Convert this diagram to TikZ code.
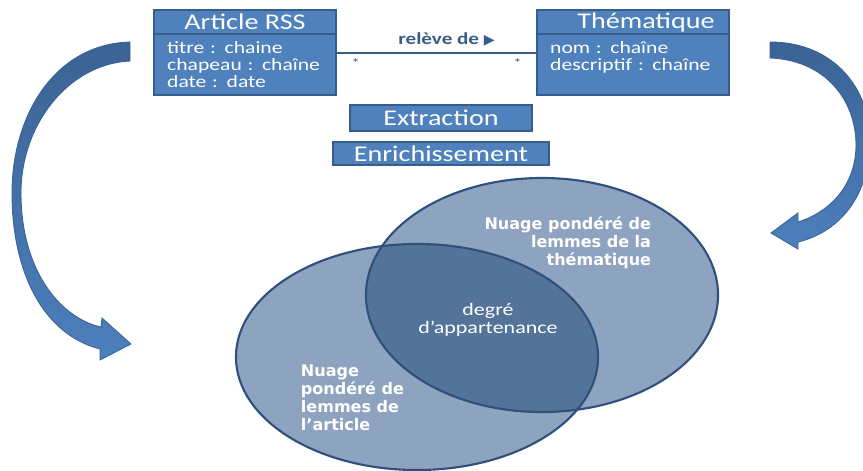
\documentclass[tikz,border=0pt]{standalone}
\usepackage{fontspec}
\setmainfont{Carlito}[FakeStretch=1.25]
\newfontfamily\cloudfont{DejaVu Sans}
\newfontfamily\symfont{DejaVu Sans}
\usetikzlibrary{positioning}
\definecolor{BoxBlue}{RGB}{79,129,189}
\definecolor{BoxEdge}{RGB}{56,93,138}
\definecolor{CloudFill}{RGB}{141,163,192}
\definecolor{LensFill}{RGB}{84,115,153}
\definecolor{CloudEdge}{RGB}{46,80,124}
\definecolor{ArrowDark}{RGB}{59,99,148}
\definecolor{ArrowLight}{RGB}{77,127,189}
\definecolor{ArrowEdge}{RGB}{58,98,150}
\tikzset{
  classhead/.style={draw=BoxEdge,fill=BoxBlue,line width=1.2pt,text=white,
    minimum height=0.6cm,inner sep=0pt,outer sep=0pt,font=\fontsize{16}{18}\selectfont},
  classbody/.style={draw=BoxEdge,fill=BoxBlue,line width=1.2pt,text=white,
    minimum height=1.525cm,inner xsep=0.33cm,inner ysep=0pt,outer sep=0pt,
    align=left,font=\fontsize{12.3}{12.4}\selectfont},
  stepbox/.style={draw=BoxEdge,fill=BoxBlue,line width=1.2pt,text=white,
    inner sep=0pt,outer sep=0pt,font=\fontsize{16}{18}\selectfont},
  cloudlabel/.style={text=white,font=\cloudfont\bfseries\fontsize{11.4}{12.8}\selectfont},
  multiplicity/.style={text=BoxEdge,font=\fontsize{9}{10}\selectfont},
  relation/.style={draw=BoxEdge,line width=1.4pt},
  bigarrow/.style={top color=ArrowDark,bottom color=ArrowLight,draw=ArrowEdge,line width=0.6pt}
}

\begin{document}
\begin{tikzpicture}[x=0.025cm,y=-0.025cm]
  \clip (0,0) rectangle (863,470);
  % classes
  \node[classhead,minimum width=4.55cm] (artHead) at (245,22) {Article RSS};
  \node[classbody,below=0pt of artHead,text width=3.89cm] (artBody)
    {titre : chaine\\chapeau : chaîne\\date : date};
  \node[classhead,minimum width=4.8cm] (thmHead) at (633,22) {\hskip0.65cm Thématique};
  \node[classbody,below=0pt of thmHead,text width=4.14cm] (thmBody)
    {nom : chaîne\\descriptif : chaîne\\\mbox{}};
  \draw[relation] ([yshift=0.29cm]artBody.east) --
    node[pos=0.55,above=1pt,text=BoxEdge,font=\bfseries\fontsize{12}{14}\selectfont]
      {relève de {\symfont\fontsize{10}{12}\selectfont ▶}}
    node[multiplicity,pos=0,below right=0pt and 7pt] {*}
    node[multiplicity,pos=1,below left=0pt and 7pt] {*}
    ([yshift=0.29cm]thmBody.west);
  % processing steps
  \node[stepbox,minimum width=4.55cm,minimum height=0.65cm] (extract) at (441,118) {Extraction};
  \node[stepbox,minimum width=5.4cm,minimum height=0.575cm,below=0.275cm of extract] (enrich) {Enrichissement};
  % clouds
  \fill[CloudFill] (542,295) ellipse [x radius=4.4cm,y radius=2.925cm];
  \fill[CloudFill] (417,357) ellipse [x radius=4.525cm,y radius=2.825cm];
  \begin{scope}
    \clip (542,295) ellipse [x radius=4.4cm,y radius=2.925cm];
    \fill[LensFill] (417,357) ellipse [x radius=4.525cm,y radius=2.825cm];
  \end{scope}
  \draw[CloudEdge,line width=1.5pt] (542,295) ellipse [x radius=4.4cm,y radius=2.925cm];
  \draw[CloudEdge,line width=1.5pt] (417,357) ellipse [x radius=4.525cm,y radius=2.825cm];
  \node[cloudlabel,anchor=east,align=right] (thmCloud) at (656,243)
    {Nuage pondéré de\\lemmes de la\\thématique};
  \node[cloudlabel,anchor=west,align=left] (artCloud) at (296,398)
    {Nuage\\pondéré de\\lemmes de\\l’article};
  \node[text=white,align=center,font=\fontsize{12.5}{13}\selectfont] (degree) at (488,320)
    {degré\\d’appartenance};
  % curved arrows
  \shadedraw[bigarrow] (130,42) .. controls (55,44) and (12,115) .. (12,193)
    .. controls (12,275) and (45,335) .. (100,349) -- (100,360) -- (131,344) -- (102,318) -- (101,327)
    .. controls (60,318) and (21,270) .. (21,193) .. controls (21,125) and (68,64) .. (130,61) -- cycle;
  \shadedraw[bigarrow] (770,42) .. controls (835,42) and (870,90) .. (870,140)
    .. controls (870,195) and (840,232) .. (798,242) -- (798,249) -- (771,233) -- (798,213) -- (798,222)
    .. controls (830,212) and (856,185) .. (856,145) .. controls (856,100) and (825,60) .. (770,58) -- cycle;
\end{tikzpicture}
\end{document}
